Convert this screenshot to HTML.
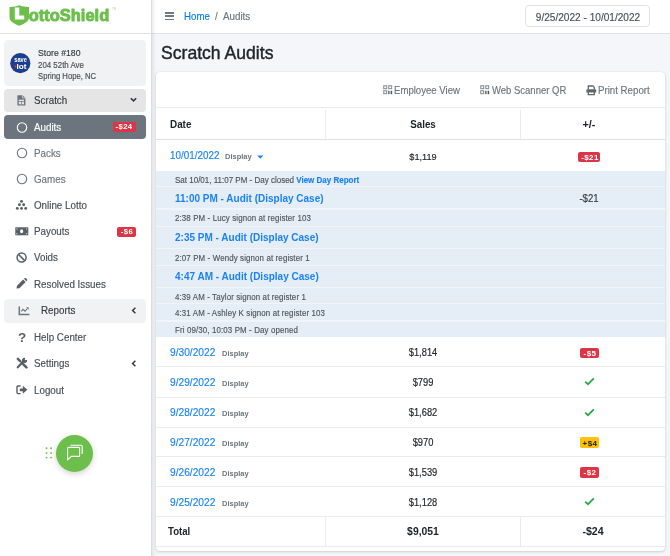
<!DOCTYPE html><html><head><meta charset="utf-8"><style>
html,body{margin:0;padding:0;}
body{width:670px;height:556px;overflow:hidden;position:relative;background:#f4f6f9;font-family:"Liberation Sans",sans-serif;}
.t{position:absolute;white-space:nowrap;will-change:transform;-webkit-text-stroke:0.15px currentColor;}
.r{position:absolute;}
svg.r{will-change:transform;}
</style></head><body>
<div class="r" style="left:151.00px;top:0.00px;width:519.00px;height:33.00px;background:#ffffff;"></div>
<div class="r" style="left:0.00px;top:0.00px;width:151.00px;height:556.00px;background:#ffffff;"></div>
<div class="r" style="left:0.00px;top:33.00px;width:670.00px;height:1.00px;background:#dee2e6;"></div>
<div class="r" style="left:151.00px;top:0.00px;width:1.00px;height:556.00px;background:#d9dce0;"></div>
<div class="r" style="left:152.00px;top:0.00px;width:4.00px;height:556.00px;background:linear-gradient(to right, rgba(0,0,0,0.07), rgba(0,0,0,0));"></div>
<svg class="r" style="left:9.00px;top:5.00px" width="21" height="21" viewBox="0 0 21 21"><path d="M10.3 0.3 C13.5 1.6 16.5 2 20 1.9 L20 12.5 C20 16 15.5 18.8 10.3 20.8 C5 18.8 0.5 16 0.5 12.5 L0.5 1.9 C4 2 7 1.6 10.3 0.3Z" fill="#6cbf4b"/>
<path d="M5.8 2.6 L10.3 2.6 L10.3 10.4 L15.2 10.4 L15.2 14.5 L5.8 14.5Z" fill="#fff"/></svg>
<svg class="r" style="left:28.00px;top:4.00px" width="84" height="19" viewBox="0 0 84 19"><text x="0.8" y="16.5" textLength="80.4" lengthAdjust="spacingAndGlyphs" font-family="Liberation Sans" font-weight="700" font-size="16.8" fill="#6cbf4b" stroke="#6cbf4b" stroke-width="0.9" stroke-linejoin="round">ottoShield</text></svg>
<div class="t" style="left:111.60px;top:7.00px;font-size:3.0px;line-height:4px;color:#b3dba2;font-weight:400;-webkit-text-stroke:0;">TM</div>
<div class="r" style="left:3.60px;top:39.60px;width:142.20px;height:46.50px;background:#f1f2f4;border-radius:4px;"></div>
<svg class="r" style="left:9.50px;top:52.50px" width="21" height="21" viewBox="0 0 21 21"><circle cx="10.3" cy="10.2" r="10.1" fill="#1b3f8f"/>
<text x="10.6" y="9.4" text-anchor="middle" textLength="12.6" lengthAdjust="spacingAndGlyphs" font-family="Liberation Sans" font-weight="700" font-size="7" fill="#fff">save</text>
<text x="11.4" y="15.6" text-anchor="middle" textLength="10" lengthAdjust="spacingAndGlyphs" font-family="Liberation Sans" font-weight="700" font-size="7.4" fill="#fff">lot</text>
<path d="M4.6 11.6 L7 13.4 L4.8 15.2Z" fill="#e3262f"/></svg>
<div class="t" style="left:38.00px;top:48.00px;font-size:8.7px;line-height:10px;color:#343a40;font-weight:400;transform:scaleY(1.08);transform-origin:0 8px;">Store #180</div>
<div class="t" style="left:38.00px;top:61.00px;font-size:7.9px;line-height:9px;color:#495057;font-weight:400;transform:scaleY(1.08);transform-origin:0 7px;">204 52th Ave</div>
<div class="t" style="left:38.00px;top:72.00px;font-size:7.7px;line-height:9px;color:#495057;font-weight:400;transform:scaleY(1.08);transform-origin:0 7px;">Spring Hope, NC</div>
<div class="r" style="left:3.60px;top:88.60px;width:142.20px;height:23.90px;background:#e5e5e6;border-radius:4px;"></div>
<svg class="r" style="left:17.00px;top:94.50px" width="9" height="11" viewBox="0 0 9 11"><path d="M0.4 0.2 L5.6 0.2 L8.4 3 L8.4 10.4 L0.4 10.4Z" fill="#6c757d"/>
<path d="M5.6 0.2 L5.6 3 L8.4 3" stroke="#e5e5e6" stroke-width="0.7" fill="none"/>
<rect x="1.8" y="4.7" width="5.2" height="4.6" fill="#e5e5e6"/>
<rect x="1.8" y="6.0" width="5.2" height="0.7" fill="#6c757d"/><rect x="4.05" y="6.0" width="0.7" height="3.3" fill="#6c757d"/></svg>
<div class="t" style="left:34.00px;top:95.00px;font-size:9.8px;line-height:11px;color:#343a40;font-weight:400;transform:scaleY(1.08);transform-origin:0 9px;">Scratch</div>
<svg class="r" style="left:129.50px;top:97.00px" width="7" height="6" viewBox="0 0 7 6"><path d="M0.8 1.2 L3.5 3.9 L6.2 1.2" stroke="#343a40" stroke-width="1.6" fill="none"/></svg>
<div class="r" style="left:3.60px;top:115.00px;width:142.20px;height:23.80px;background:#6c757d;border-radius:4px;"></div>
<svg class="r" style="left:15.50px;top:121.50px" width="12" height="12" viewBox="0 0 12 12"><circle cx="6" cy="5.5" r="4.7" stroke="#fff" stroke-width="1.1" fill="none"/></svg>
<div class="t" style="left:34.00px;top:122.00px;font-size:9.8px;line-height:11px;color:#ffffff;font-weight:400;transform:scaleY(1.08);transform-origin:0 9px;">Audits</div>
<div class="r" style="left:112.50px;top:121.60px;width:23.40px;height:10.70px;background:#dc3545;border-radius:2px;"></div>
<div class="t" style="left:-25.60px;width:300px;text-align:center;top:122.00px;font-size:7.7px;line-height:9px;color:#fff;font-weight:700;letter-spacing:0.45px;-webkit-text-stroke:0;">-$24</div>
<svg class="r" style="left:15.50px;top:147.20px" width="12" height="12" viewBox="0 0 12 12"><circle cx="6" cy="6" r="4.7" stroke="#6c757d" stroke-width="1.1" fill="none"/></svg>
<div class="t" style="left:34.00px;top:148.00px;font-size:9.8px;line-height:11px;color:#6c757d;font-weight:400;transform:scaleY(1.08);transform-origin:0 9px;">Packs</div>
<svg class="r" style="left:15.50px;top:173.30px" width="12" height="12" viewBox="0 0 12 12"><circle cx="6" cy="6" r="4.7" stroke="#6c757d" stroke-width="1.1" fill="none"/></svg>
<div class="t" style="left:34.00px;top:174.00px;font-size:9.8px;line-height:11px;color:#6c757d;font-weight:400;transform:scaleY(1.08);transform-origin:0 9px;">Games</div>
<svg class="r" style="left:14.00px;top:198.00px" width="15" height="13" viewBox="0 0 15 13"><circle cx="7.5" cy="3.4" r="1.45" fill="#585f66"/><circle cx="5.4" cy="6.8" r="1.45" fill="#585f66"/><circle cx="9.7" cy="6.8" r="1.45" fill="#585f66"/><circle cx="3.3" cy="10.4" r="1.45" fill="#585f66"/><circle cx="7.5" cy="10.4" r="1.45" fill="#585f66"/><circle cx="11.7" cy="10.4" r="1.45" fill="#585f66"/></svg>
<div class="t" style="left:34.00px;top:200.00px;font-size:9.8px;line-height:11px;color:#484e55;font-weight:400;transform:scaleY(1.08);transform-origin:0 9px;">Online Lotto</div>
<svg class="r" style="left:14.80px;top:226.60px" width="14" height="9" viewBox="0 0 14 9"><rect x="0.3" y="0.3" width="13" height="8" fill="#585f66"/>
<ellipse cx="6.6" cy="4.3" rx="1.5" ry="2" fill="#fff"/>
<circle cx="1.9" cy="1.9" r="0.7" fill="#c9ccd0"/><circle cx="11.7" cy="1.9" r="0.7" fill="#c9ccd0"/>
<circle cx="1.9" cy="6.7" r="0.7" fill="#c9ccd0"/><circle cx="11.7" cy="6.7" r="0.7" fill="#c9ccd0"/></svg>
<div class="t" style="left:34.00px;top:226.00px;font-size:9.8px;line-height:11px;color:#484e55;font-weight:400;transform:scaleY(1.08);transform-origin:0 9px;">Payouts</div>
<div class="r" style="left:117.00px;top:226.90px;width:19.00px;height:10.30px;background:#dc3545;border-radius:2px;"></div>
<div class="t" style="left:-23.30px;width:300px;text-align:center;top:227.00px;font-size:7.7px;line-height:9px;color:#fff;font-weight:700;letter-spacing:0.45px;-webkit-text-stroke:0;">-$6</div>
<svg class="r" style="left:15.00px;top:251.00px" width="13" height="13" viewBox="0 0 13 13"><circle cx="6.6" cy="6.5" r="4.5" stroke="#585f66" stroke-width="1.5" fill="none"/><path d="M3.5 3.4 L9.7 9.6" stroke="#585f66" stroke-width="1.5"/></svg>
<div class="t" style="left:34.00px;top:252.00px;font-size:9.8px;line-height:11px;color:#484e55;font-weight:400;transform:scaleY(1.08);transform-origin:0 9px;">Voids</div>
<svg class="r" style="left:15.00px;top:278.00px" width="13" height="12" viewBox="0 0 13 12"><path d="M1.5 10.5 L2 7.8 L8.2 1.6 L10.6 4 L4.4 10.2Z" fill="#585f66"/><path d="M9 0.8 L9.8 0 Q10.4 -0.3 11 0.3 L12 1.3 Q12.5 1.9 12 2.5 L11.3 3.2Z" fill="#585f66"/></svg>
<div class="t" style="left:34.00px;top:279.00px;font-size:9.8px;line-height:11px;color:#484e55;font-weight:400;transform:scaleY(1.08);transform-origin:0 9px;">Resolved Issues</div>
<div class="r" style="left:3.60px;top:299.20px;width:142.20px;height:23.50px;background:#f1f2f4;border-radius:4px;"></div>
<svg class="r" style="left:17.50px;top:305.50px" width="12" height="10" viewBox="0 0 12 10"><path d="M1.3 0.6 L1.3 8.4 L11.4 8.4" stroke="#6c757d" stroke-width="1.5" fill="none"/><path d="M3.3 5.3 L5 3.3 L7 5.2 L9.5 2.5" stroke="#6c757d" stroke-width="1.1" fill="none"/><path d="M8.2 1.3 L10.6 1.3 L10.6 3.7Z" fill="#6c757d"/></svg>
<div class="t" style="left:40.60px;top:305.00px;font-size:9.8px;line-height:11px;color:#343a40;font-weight:400;transform:scaleY(1.08);transform-origin:0 9px;">Reports</div>
<svg class="r" style="left:130.50px;top:307.00px" width="6" height="7" viewBox="0 0 6 7"><path d="M4.4 0.8 L1.6 3.5 L4.4 6.2" stroke="#343a40" stroke-width="1.5" fill="none"/></svg>
<div class="t" style="left:-128.50px;width:300px;text-align:center;top:330.00px;font-size:13.5px;line-height:15px;color:#585f66;font-weight:700;-webkit-text-stroke:0;">?</div>
<div class="t" style="left:34.00px;top:332.00px;font-size:9.8px;line-height:11px;color:#484e55;font-weight:400;transform:scaleY(1.08);transform-origin:0 9px;">Help Center</div>
<svg class="r" style="left:15.50px;top:357.00px" width="12" height="12" viewBox="0 0 12 12"><path d="M1.8 1.8 L4.2 4.2" stroke="#585f66" stroke-width="2.4" stroke-linecap="round"/>
<path d="M4 4 L7 7" stroke="#585f66" stroke-width="1.2"/>
<path d="M7.4 7.4 L10.4 10.4" stroke="#585f66" stroke-width="2.6" stroke-linecap="round"/>
<path d="M1.7 10.3 L7.2 4.8" stroke="#585f66" stroke-width="2.2" stroke-linecap="round"/>
<path d="M9.3 1.0 A2.6 2.6 0 1 0 11.0 2.7 L9.6 3.3 L8.7 2.4Z" fill="#585f66"/></svg>
<div class="t" style="left:34.00px;top:358.00px;font-size:9.8px;line-height:11px;color:#484e55;font-weight:400;transform:scaleY(1.08);transform-origin:0 9px;">Settings</div>
<svg class="r" style="left:130.50px;top:360.00px" width="6" height="7" viewBox="0 0 6 7"><path d="M4.4 0.8 L1.6 3.5 L4.4 6.2" stroke="#343a40" stroke-width="1.5" fill="none"/></svg>
<svg class="r" style="left:16.00px;top:385.00px" width="13" height="10" viewBox="0 0 13 10"><path d="M4.6 1 L2 1 Q1 1 1 2 L1 7.6 Q1 8.6 2 8.6 L4.6 8.6" stroke="#585f66" stroke-width="1.4" fill="none"/>
<path d="M3.8 3.4 L6.8 3.4 L6.8 0.8 L11.4 4.8 L6.8 8.8 L6.8 6.2 L3.8 6.2Z" fill="#585f66"/></svg>
<div class="t" style="left:34.00px;top:385.00px;font-size:9.8px;line-height:11px;color:#484e55;font-weight:400;transform:scaleY(1.08);transform-origin:0 9px;">Logout</div>
<div class="r" style="left:56.00px;top:434.50px;width:37.00px;height:37.00px;background:#6cbf4b;border-radius:50%;box-shadow:0 2px 6px rgba(0,0,0,0.18);"></div>
<svg class="r" style="left:65.50px;top:443.50px" width="19" height="18" viewBox="0 0 19 18"><path d="M1.6 4.4 Q1.6 3.4 2.6 3.4 L12.6 3.4 Q13.6 3.4 13.6 4.4 L13.6 11.4 Q13.6 12.4 12.6 12.4 L5.2 12.4 L1.6 15.8Z" stroke="#fff" stroke-width="1.1" fill="none" stroke-linejoin="round"/>
<path d="M4.4 1.2 L15 1.2 Q16.2 1.2 16.2 2.4 L16.2 10" stroke="#fff" stroke-width="1.1" fill="none"/></svg>
<svg class="r" style="left:44.00px;top:446.00px" width="10" height="14" viewBox="0 0 10 14"><circle cx="2.5" cy="2.1999999999999886" r="0.95" fill="#6cbf4b"/><circle cx="2.5" cy="6.899999999999977" r="0.95" fill="#6cbf4b"/><circle cx="2.5" cy="11.600000000000023" r="0.95" fill="#6cbf4b"/><circle cx="7.100000000000001" cy="2.1999999999999886" r="0.95" fill="#6cbf4b"/><circle cx="7.100000000000001" cy="6.899999999999977" r="0.95" fill="#6cbf4b"/><circle cx="7.100000000000001" cy="11.600000000000023" r="0.95" fill="#6cbf4b"/></svg>
<div class="r" style="left:165.20px;top:12.30px;width:9.00px;height:1.40px;background:#70777e;"></div>
<div class="r" style="left:165.20px;top:15.40px;width:9.00px;height:1.40px;background:#70777e;"></div>
<div class="r" style="left:165.20px;top:18.50px;width:9.00px;height:1.40px;background:#70777e;"></div>
<div class="t" style="left:184.00px;top:11.00px;font-size:9.7px;line-height:11px;color:#007bff;font-weight:400;transform:scaleY(1.08);transform-origin:0 9px;">Home</div>
<div class="t" style="left:215.20px;top:11.00px;font-size:9.6px;line-height:11px;color:#6c757d;font-weight:400;transform:scaleY(1.08);transform-origin:0 9px;">/</div>
<div class="t" style="left:223.00px;top:11.00px;font-size:9.8px;line-height:11px;color:#6c757d;font-weight:400;transform:scaleY(1.08);transform-origin:0 9px;">Audits</div>
<div class="r" style="left:524.80px;top:4.80px;width:125.40px;height:22.70px;background:#fff;border:1px solid #dfe3e7;border-radius:4px;box-sizing:border-box;"></div>
<div class="t" style="left:437.90px;width:300px;text-align:center;top:12.00px;font-size:10.1px;line-height:11px;color:#495057;font-weight:400;transform:scaleY(1.08);transform-origin:0 9px;">9/25/2022 - 10/01/2022</div>
<div class="t" style="left:160.50px;top:43.00px;font-size:17.6px;line-height:20px;color:#212529;font-weight:400;-webkit-text-stroke:0.4px #212529;transform:scaleY(1.08);transform-origin:0 16px;">Scratch Audits</div>
<div class="r" style="left:155.90px;top:72.20px;width:509.40px;height:478.60px;background:#fff;border-radius:4px;box-shadow:0 0 1px rgba(0,0,0,.2),0 1px 3px rgba(0,0,0,.15);"></div>
<div class="r" style="left:155.90px;top:106.80px;width:509.40px;height:1.00px;background:#e9ecef;"></div>
<svg class="r" style="left:382.50px;top:84.80px" width="10" height="10" viewBox="0 0 10 10"><rect x="0.2" y="0.2" width="4" height="4" fill="#8a9197"/><rect x="5.2" y="0.2" width="4" height="4" fill="#8a9197"/>
<rect x="0.2" y="5.2" width="4" height="4" fill="#8a9197"/><rect x="1.3" y="1.3" width="1.8" height="1.8" fill="#fff"/><rect x="6.3" y="1.3" width="1.8" height="1.8" fill="#fff"/><rect x="1.3" y="6.3" width="1.8" height="1.8" fill="#fff"/>
<rect x="5.2" y="5.8" width="1.3" height="3.4" fill="#50565c"/><rect x="7.6" y="5.8" width="1.6" height="3.4" fill="#50565c"/></svg>
<div class="t" style="left:394.20px;top:85.00px;font-size:9.6px;line-height:11px;color:#6c757d;font-weight:400;transform:scaleY(1.08);transform-origin:0 9px;">Employee View</div>
<svg class="r" style="left:479.70px;top:84.80px" width="10" height="10" viewBox="0 0 10 10"><rect x="0.2" y="0.2" width="4" height="4" fill="#8a9197"/><rect x="5.2" y="0.2" width="4" height="4" fill="#8a9197"/>
<rect x="0.2" y="5.2" width="4" height="4" fill="#8a9197"/><rect x="1.3" y="1.3" width="1.8" height="1.8" fill="#fff"/><rect x="6.3" y="1.3" width="1.8" height="1.8" fill="#fff"/><rect x="1.3" y="6.3" width="1.8" height="1.8" fill="#fff"/>
<rect x="5.2" y="5.8" width="1.3" height="3.4" fill="#50565c"/><rect x="7.6" y="5.8" width="1.6" height="3.4" fill="#50565c"/></svg>
<div class="t" style="left:492.00px;top:85.00px;font-size:9.5px;line-height:11px;color:#6c757d;font-weight:400;transform:scaleY(1.08);transform-origin:0 9px;">Web Scanner QR</div>
<svg class="r" style="left:585.50px;top:84.50px" width="11" height="11" viewBox="0 0 11 11"><path d="M2.3 4.6 L2.3 1.0 L6.9 1.0 L8.3 2.4 L8.3 4.6" stroke="#5f666d" stroke-width="1.3" fill="none"/>
<path d="M1.2 4.3 L9.4 4.3 Q10.2 4.3 10.2 5.1 L10.2 7.6 L0.4 7.6 L0.4 5.1 Q0.4 4.3 1.2 4.3Z" fill="#5f666d"/>
<path d="M2.3 7 L2.3 9.6 L8.3 9.6 L8.3 7" stroke="#5f666d" stroke-width="1.3" fill="none"/></svg>
<div class="t" style="left:598.40px;top:85.00px;font-size:9.7px;line-height:11px;color:#6c757d;font-weight:400;transform:scaleY(1.08);transform-origin:0 9px;">Print Report</div>
<div class="r" style="left:325.00px;top:110.00px;width:1.00px;height:29.00px;background:#e9ecef;"></div>
<div class="r" style="left:520.00px;top:110.00px;width:1.00px;height:29.00px;background:#e9ecef;"></div>
<div class="r" style="left:155.90px;top:138.60px;width:509.40px;height:1.80px;background:#dee2e6;"></div>
<div class="t" style="left:170.30px;top:119.00px;font-size:9.9px;line-height:11px;color:#212529;font-weight:700;-webkit-text-stroke:0;transform:scaleY(1.08);transform-origin:0 9px;">Date</div>
<div class="t" style="left:272.80px;width:300px;text-align:center;top:119.00px;font-size:9.8px;line-height:11px;color:#212529;font-weight:700;-webkit-text-stroke:0;transform:scaleY(1.08);transform-origin:0 9px;">Sales</div>
<div class="t" style="left:439.20px;width:300px;text-align:center;top:118.00px;font-size:10.8px;line-height:12px;color:#212529;font-weight:700;-webkit-text-stroke:0;transform:scaleY(1.08);transform-origin:0 10px;">+/-</div>
<div class="t" style="left:170.30px;top:150.00px;font-size:9.9px;line-height:11px;color:#1a82f5;font-weight:400;transform:scaleY(1.08);transform-origin:0 9px;">10/01/2022</div>
<div class="t" style="left:224.60px;top:152.00px;font-size:7.5px;line-height:9px;color:#6c757d;font-weight:700;-webkit-text-stroke:0;transform:scaleY(1.08);transform-origin:0 7px;">Display</div>
<svg class="r" style="left:257.20px;top:154.50px" width="7" height="5" viewBox="0 0 7 5"><path d="M0.3 0.5 L6.3 0.5 L3.3 3.8Z" fill="#1a82f5"/></svg>
<div class="t" style="left:273.00px;width:300px;text-align:center;top:152.00px;font-size:9.2px;line-height:10px;color:#212529;font-weight:400;transform:scaleY(1.08);transform-origin:0 8px;">$1,119</div>
<div class="r" style="left:578.45px;top:151.50px;width:21.50px;height:10.70px;background:#dc3545;border-radius:2px;"></div>
<div class="t" style="left:439.50px;width:300px;text-align:center;top:153.00px;font-size:8.0px;line-height:9px;color:#fff;font-weight:700;letter-spacing:0.4px;-webkit-text-stroke:0;">-$21</div>
<div class="r" style="left:155.90px;top:171.20px;width:509.40px;height:166.00px;background:#e5eef6;"></div>
<div class="r" style="left:155.90px;top:185.70px;width:509.40px;height:1.50px;background:#f0f5f9;"></div>
<div class="r" style="left:155.90px;top:208.30px;width:509.40px;height:1.50px;background:#f0f5f9;"></div>
<div class="r" style="left:155.90px;top:225.50px;width:509.40px;height:1.50px;background:#f0f5f9;"></div>
<div class="r" style="left:155.90px;top:247.70px;width:509.40px;height:1.50px;background:#f0f5f9;"></div>
<div class="r" style="left:155.90px;top:264.60px;width:509.40px;height:1.50px;background:#f0f5f9;"></div>
<div class="r" style="left:155.90px;top:286.70px;width:509.40px;height:1.50px;background:#f0f5f9;"></div>
<div class="r" style="left:155.90px;top:302.90px;width:509.40px;height:1.50px;background:#f0f5f9;"></div>
<div class="r" style="left:155.90px;top:320.30px;width:509.40px;height:1.50px;background:#f0f5f9;"></div>
<div class="t" style="left:174.60px;top:176.00px;font-size:8.0px;line-height:9px;color:#50565c;font-weight:400;transform:scaleY(1.08);transform-origin:0 7px;">Sat 10/01, 11:07 PM - Day closed <b style="color:#1a82f5">View Day Report</b></div>
<div class="t" style="left:174.60px;top:193.00px;font-size:10.0px;line-height:11px;color:#1a82f5;font-weight:700;-webkit-text-stroke:0;transform:scaleY(1.08);transform-origin:0 9px;">11:00 PM - Audit (Display Case)</div>
<div class="t" style="left:439.40px;width:300px;text-align:center;top:193.00px;font-size:9.6px;line-height:11px;color:#343a40;font-weight:400;transform:scaleY(1.08);transform-origin:0 9px;">-$21</div>
<div class="t" style="left:174.60px;top:214.00px;font-size:7.9px;line-height:9px;color:#50565c;font-weight:400;letter-spacing:0.13px;transform:scaleY(1.08);transform-origin:0 7px;">2:38 PM - Lucy signon at register 103</div>
<div class="t" style="left:174.60px;top:232.00px;font-size:10.0px;line-height:11px;color:#1a82f5;font-weight:700;-webkit-text-stroke:0;transform:scaleY(1.08);transform-origin:0 9px;">2:35 PM - Audit (Display Case)</div>
<div class="t" style="left:174.60px;top:254.00px;font-size:7.9px;line-height:9px;color:#50565c;font-weight:400;letter-spacing:0.13px;transform:scaleY(1.08);transform-origin:0 7px;">2:07 PM - Wendy signon at register 1</div>
<div class="t" style="left:174.60px;top:271.00px;font-size:10.0px;line-height:11px;color:#1a82f5;font-weight:700;-webkit-text-stroke:0;transform:scaleY(1.08);transform-origin:0 9px;">4:47 AM - Audit (Display Case)</div>
<div class="t" style="left:174.60px;top:293.00px;font-size:7.9px;line-height:9px;color:#50565c;font-weight:400;letter-spacing:0.13px;transform:scaleY(1.08);transform-origin:0 7px;">4:39 AM - Taylor signon at register 1</div>
<div class="t" style="left:174.60px;top:309.00px;font-size:7.9px;line-height:9px;color:#50565c;font-weight:400;letter-spacing:0.13px;transform:scaleY(1.08);transform-origin:0 7px;">4:31 AM - Ashley K signon at register 103</div>
<div class="t" style="left:174.60px;top:326.00px;font-size:7.9px;line-height:9px;color:#50565c;font-weight:400;letter-spacing:0.13px;transform:scaleY(1.08);transform-origin:0 7px;">Fri 09/30, 10:03 PM - Day opened</div>
<div class="t" style="left:170.20px;top:347.00px;font-size:10.2px;line-height:11px;color:#1a82f5;font-weight:400;transform:scaleY(1.08);transform-origin:0 9px;">9/30/2022</div>
<div class="t" style="left:222.20px;top:349.00px;font-size:7.5px;line-height:9px;color:#6c757d;font-weight:700;-webkit-text-stroke:0;transform:scaleY(1.08);transform-origin:0 7px;">Display</div>
<div class="t" style="left:273.00px;width:300px;text-align:center;top:348.00px;font-size:9.3px;line-height:10px;color:#212529;font-weight:400;transform:scaleY(1.08);transform-origin:0 8px;">$1,814</div>
<div class="r" style="left:579.50px;top:347.60px;width:19.40px;height:10.60px;background:#dc3545;border-radius:2px;"></div>
<div class="t" style="left:439.50px;width:300px;text-align:center;top:349.00px;font-size:8.0px;line-height:9px;color:#fff;font-weight:700;letter-spacing:0.4px;-webkit-text-stroke:0;">-$5</div>
<div class="r" style="left:155.90px;top:366.30px;width:509.40px;height:1.20px;background:#e9ecef;"></div>
<div class="t" style="left:170.20px;top:377.00px;font-size:10.2px;line-height:11px;color:#1a82f5;font-weight:400;transform:scaleY(1.08);transform-origin:0 9px;">9/29/2022</div>
<div class="t" style="left:222.20px;top:379.00px;font-size:7.5px;line-height:9px;color:#6c757d;font-weight:700;-webkit-text-stroke:0;transform:scaleY(1.08);transform-origin:0 7px;">Display</div>
<div class="t" style="left:273.00px;width:300px;text-align:center;top:378.00px;font-size:9.3px;line-height:10px;color:#212529;font-weight:400;transform:scaleY(1.08);transform-origin:0 8px;">$799</div>
<svg class="r" style="left:583.50px;top:377.40px" width="11" height="9" viewBox="0 0 11 9"><path d="M1.2 4.6 L4 7.2 L9.8 1.4" stroke="#28a745" stroke-width="1.7" fill="none"/></svg>
<div class="r" style="left:155.90px;top:396.50px;width:509.40px;height:1.20px;background:#e9ecef;"></div>
<div class="t" style="left:170.20px;top:407.00px;font-size:10.2px;line-height:11px;color:#1a82f5;font-weight:400;transform:scaleY(1.08);transform-origin:0 9px;">9/28/2022</div>
<div class="t" style="left:222.20px;top:409.00px;font-size:7.5px;line-height:9px;color:#6c757d;font-weight:700;-webkit-text-stroke:0;transform:scaleY(1.08);transform-origin:0 7px;">Display</div>
<div class="t" style="left:273.00px;width:300px;text-align:center;top:408.00px;font-size:9.3px;line-height:10px;color:#212529;font-weight:400;transform:scaleY(1.08);transform-origin:0 8px;">$1,682</div>
<svg class="r" style="left:583.50px;top:407.60px" width="11" height="9" viewBox="0 0 11 9"><path d="M1.2 4.6 L4 7.2 L9.8 1.4" stroke="#28a745" stroke-width="1.7" fill="none"/></svg>
<div class="r" style="left:155.90px;top:426.70px;width:509.40px;height:1.20px;background:#e9ecef;"></div>
<div class="t" style="left:170.20px;top:437.00px;font-size:10.2px;line-height:11px;color:#1a82f5;font-weight:400;transform:scaleY(1.08);transform-origin:0 9px;">9/27/2022</div>
<div class="t" style="left:222.20px;top:439.00px;font-size:7.5px;line-height:9px;color:#6c757d;font-weight:700;-webkit-text-stroke:0;transform:scaleY(1.08);transform-origin:0 7px;">Display</div>
<div class="t" style="left:273.00px;width:300px;text-align:center;top:438.00px;font-size:9.3px;line-height:10px;color:#212529;font-weight:400;transform:scaleY(1.08);transform-origin:0 8px;">$970</div>
<div class="r" style="left:579.50px;top:437.45px;width:19.40px;height:10.60px;background:#ffc107;border-radius:2px;"></div>
<div class="t" style="left:439.50px;width:300px;text-align:center;top:439.00px;font-size:8.0px;line-height:9px;color:#212529;font-weight:700;letter-spacing:0.4px;-webkit-text-stroke:0;">+$4</div>
<div class="r" style="left:155.90px;top:456.00px;width:509.40px;height:1.20px;background:#e9ecef;"></div>
<div class="t" style="left:170.20px;top:467.00px;font-size:10.2px;line-height:11px;color:#1a82f5;font-weight:400;transform:scaleY(1.08);transform-origin:0 9px;">9/26/2022</div>
<div class="t" style="left:222.20px;top:469.00px;font-size:7.5px;line-height:9px;color:#6c757d;font-weight:700;-webkit-text-stroke:0;transform:scaleY(1.08);transform-origin:0 7px;">Display</div>
<div class="t" style="left:273.00px;width:300px;text-align:center;top:468.00px;font-size:9.3px;line-height:10px;color:#212529;font-weight:400;transform:scaleY(1.08);transform-origin:0 8px;">$1,539</div>
<div class="r" style="left:579.50px;top:467.00px;width:19.40px;height:10.60px;background:#dc3545;border-radius:2px;"></div>
<div class="t" style="left:439.50px;width:300px;text-align:center;top:468.00px;font-size:8.0px;line-height:9px;color:#fff;font-weight:700;letter-spacing:0.4px;-webkit-text-stroke:0;">-$2</div>
<div class="r" style="left:155.90px;top:485.80px;width:509.40px;height:1.20px;background:#e9ecef;"></div>
<div class="t" style="left:170.20px;top:497.00px;font-size:10.2px;line-height:11px;color:#1a82f5;font-weight:400;transform:scaleY(1.08);transform-origin:0 9px;">9/25/2022</div>
<div class="t" style="left:222.20px;top:499.00px;font-size:7.5px;line-height:9px;color:#6c757d;font-weight:700;-webkit-text-stroke:0;transform:scaleY(1.08);transform-origin:0 7px;">Display</div>
<div class="t" style="left:273.00px;width:300px;text-align:center;top:498.00px;font-size:9.3px;line-height:10px;color:#212529;font-weight:400;transform:scaleY(1.08);transform-origin:0 8px;">$1,128</div>
<svg class="r" style="left:583.50px;top:496.90px" width="11" height="9" viewBox="0 0 11 9"><path d="M1.2 4.6 L4 7.2 L9.8 1.4" stroke="#28a745" stroke-width="1.7" fill="none"/></svg>
<div class="r" style="left:155.90px;top:516.00px;width:509.40px;height:1.20px;background:#e9ecef;"></div>
<div class="r" style="left:325.00px;top:517.00px;width:1.00px;height:29.00px;background:#e9ecef;"></div>
<div class="r" style="left:520.00px;top:517.00px;width:1.00px;height:29.00px;background:#e9ecef;"></div>
<div class="r" style="left:155.90px;top:545.80px;width:509.40px;height:1.20px;background:#e9ecef;"></div>
<div class="t" style="left:168.20px;top:526.00px;font-size:9.6px;line-height:11px;color:#212529;font-weight:700;-webkit-text-stroke:0;transform:scaleY(1.08);transform-origin:0 9px;">Total</div>
<div class="t" style="left:273.00px;width:300px;text-align:center;top:526.00px;font-size:10.4px;line-height:11px;color:#212529;font-weight:700;-webkit-text-stroke:0;transform:scaleY(1.08);transform-origin:0 9px;">$9,051</div>
<div class="t" style="left:442.80px;width:300px;text-align:center;top:525.00px;font-size:10.6px;line-height:12px;color:#212529;font-weight:700;-webkit-text-stroke:0;transform:scaleY(1.08);transform-origin:0 10px;">-$24</div>
</body></html>
